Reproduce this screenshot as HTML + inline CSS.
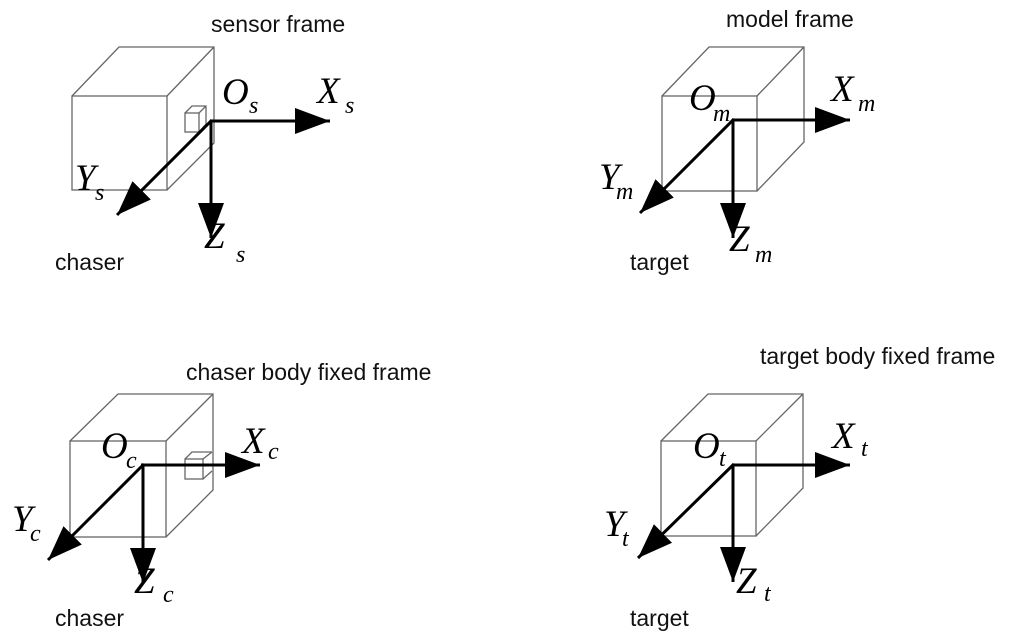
<!DOCTYPE html>
<html><head><meta charset="utf-8"><style>
html,body{margin:0;padding:0;background:#fff;}
svg{display:block;}
.t{font-family:"Liberation Sans",sans-serif;font-size:23px;fill:#111;}
.m{font-family:"Liberation Serif",serif;font-style:italic;font-size:37px;fill:#000;}
.s{font-family:"Liberation Serif",serif;font-style:italic;font-size:24px;fill:#000;}
.c{fill:none;stroke:#666;stroke-width:1.3;}
.a{stroke:#000;stroke-width:3;fill:none;}
</style></head><body>
<svg width="1024" height="641" viewBox="0 0 1024 641" xmlns="http://www.w3.org/2000/svg">
<defs>
<marker id="h" markerUnits="userSpaceOnUse" markerWidth="38" markerHeight="28" refX="35" refY="14" orient="auto" viewBox="0 0 38 28">
<path d="M0,1 L35,14 L0,27 Z" fill="#000"/></marker>
</defs>

<!-- sensor cube -->
<rect class="c" x="72" y="96" width="95" height="94"/>
<path class="c" d="M72,96 L119,47 L214,47 L214,143 L167,190 M167,96 L214,47"/>
<rect class="c" x="185" y="113" width="14" height="19"/>
<path class="c" d="M185,113 L192,106 L206,106 L206,124 L199,132 M199,113 L206,106"/>
<line class="a" x1="210" y1="121" x2="330" y2="121" marker-end="url(#h)"/>
<line class="a" x1="211" y1="120" x2="211" y2="238" marker-end="url(#h)"/>
<line class="a" x1="212" y1="120" x2="117" y2="215" marker-end="url(#h)"/>
<text class="t" x="211" y="32">sensor frame</text>
<text class="t" x="55" y="270">chaser</text>
<text class="m" x="222" y="104">O</text><text class="s" x="249" y="113">s</text>
<text class="m" x="317" y="103">X</text><text class="s" x="345" y="113">s</text>
<text class="m" x="75" y="190">Y</text><text class="s" x="95" y="200">s</text>
<text class="m" x="204" y="248">Z</text><text class="s" x="236" y="262">s</text>

<!-- model cube -->
<rect class="c" x="662" y="96" width="95" height="95"/>
<path class="c" d="M662,96 L709,47 L804,47 L804,142 L757,191 M757,96 L804,47"/>
<line class="a" x1="732" y1="120" x2="850" y2="120" marker-end="url(#h)"/>
<line class="a" x1="733" y1="119" x2="733" y2="238" marker-end="url(#h)"/>
<line class="a" x1="734" y1="119" x2="640" y2="213" marker-end="url(#h)"/>
<text class="t" x="726" y="27">model frame</text>
<text class="t" x="630" y="270">target</text>
<text class="m" x="689" y="110">O</text><text class="s" x="713" y="121">m</text>
<text class="m" x="831" y="101">X</text><text class="s" x="858" y="111">m</text>
<text class="m" x="599" y="189">Y</text><text class="s" x="616" y="199">m</text>
<text class="m" x="729" y="251">Z</text><text class="s" x="755" y="262">m</text>

<!-- chaser body cube -->
<rect class="c" x="70" y="441" width="96" height="96"/>
<path class="c" d="M70,441 L118,394 L213,394 L213,490 L166,537 M166,441 L213,394"/>
<rect class="c" x="185" y="459" width="18" height="20"/>
<path class="c" d="M185,459 L192,452 L212,452 M203,459 L212,452 M203,479 L212,471"/>
<line class="a" x1="141" y1="465" x2="260" y2="465" marker-end="url(#h)"/>
<line class="a" x1="143" y1="464" x2="143" y2="583" marker-end="url(#h)"/>
<line class="a" x1="144" y1="464" x2="48" y2="560" marker-end="url(#h)"/>
<text class="t" x="186" y="380">chaser body fixed frame</text>
<text class="t" x="55" y="626">chaser</text>
<text class="m" x="101" y="458">O</text><text class="s" x="126" y="468">c</text>
<text class="m" x="242" y="453">X</text><text class="s" x="268" y="459">c</text>
<text class="m" x="12" y="531">Y</text><text class="s" x="30" y="541">c</text>
<text class="m" x="134" y="593">Z</text><text class="s" x="163" y="602">c</text>

<!-- target body cube -->
<rect class="c" x="661" y="441" width="95" height="95"/>
<path class="c" d="M661,441 L708,394 L803,394 L803,488 L756,536 M756,441 L803,394"/>
<line class="a" x1="732" y1="465" x2="850" y2="465" marker-end="url(#h)"/>
<line class="a" x1="733" y1="464" x2="733" y2="582" marker-end="url(#h)"/>
<line class="a" x1="734" y1="464" x2="638" y2="558" marker-end="url(#h)"/>
<text class="t" x="760" y="364">target body fixed frame</text>
<text class="t" x="630" y="626">target</text>
<text class="m" x="693" y="458">O</text><text class="s" x="719" y="466">t</text>
<text class="m" x="832" y="448">X</text><text class="s" x="861" y="456">t</text>
<text class="m" x="604" y="536">Y</text><text class="s" x="622" y="546">t</text>
<text class="m" x="736" y="593">Z</text><text class="s" x="764" y="601">t</text>
</svg>
</body></html>
